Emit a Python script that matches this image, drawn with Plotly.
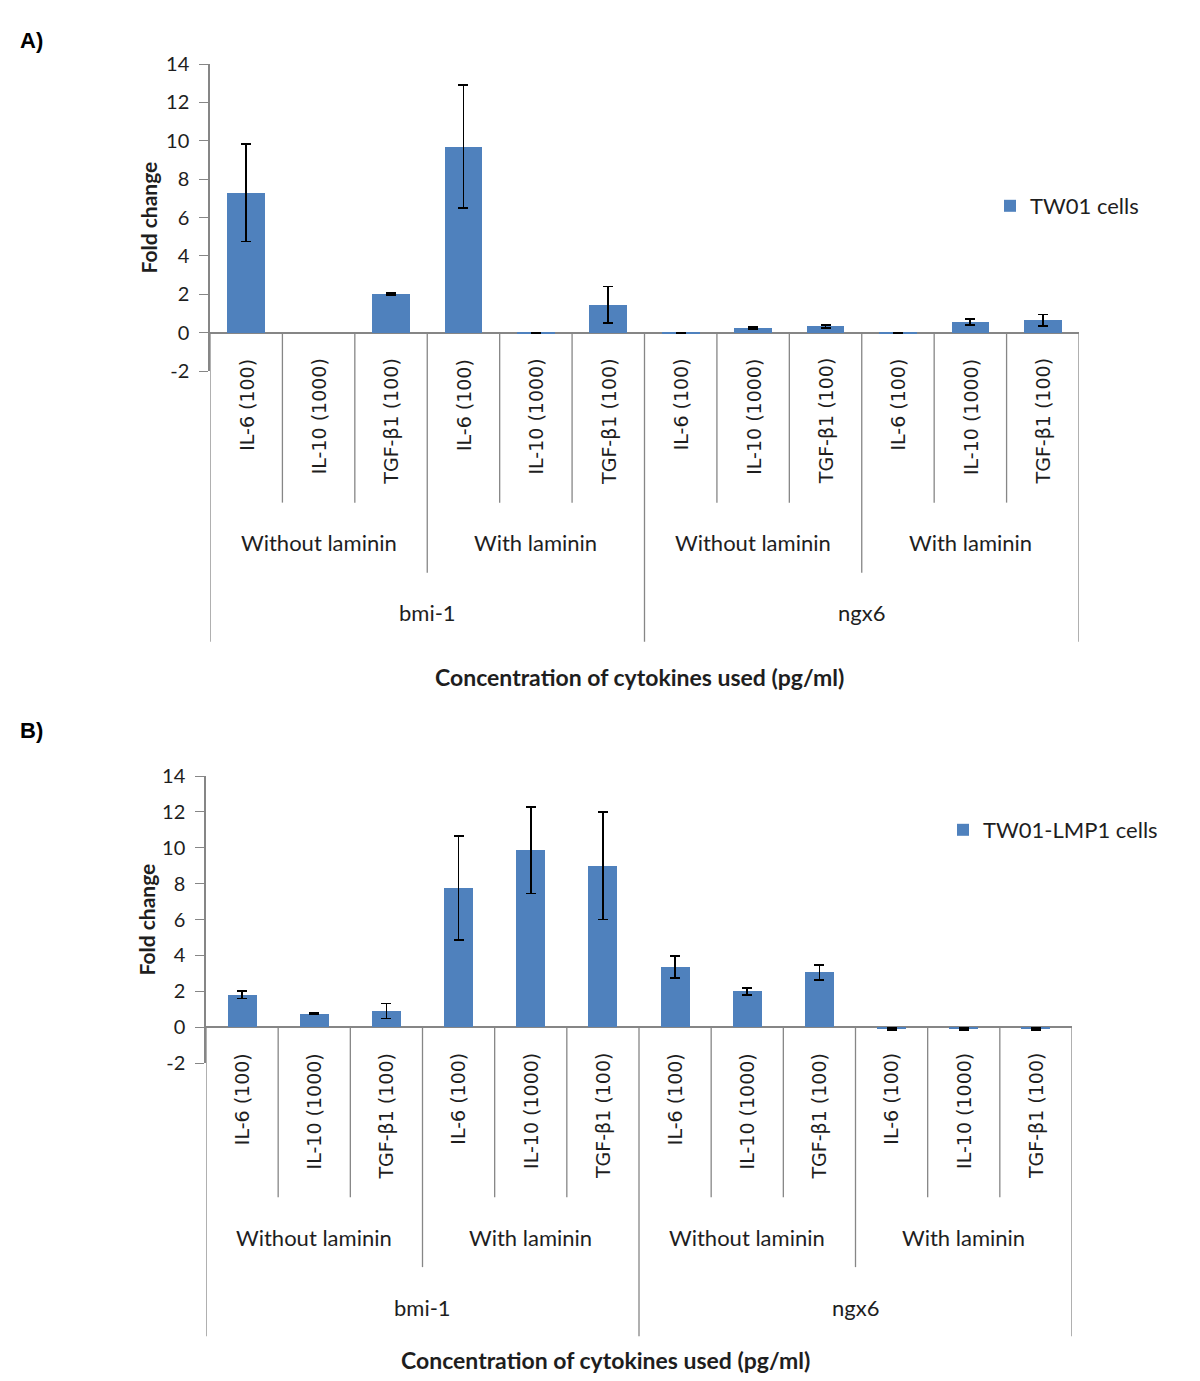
import plotly.graph_objects as go

W, H = 1200, 1381
PAGE_OFFSET = 8  # default body margin of the html page

# ---------------- data ----------------
categories = ["IL-6 (100)", "IL-10 (1000)", "TGF-β1 (100)"] * 4
conditions = ["Without laminin", "With laminin", "Without laminin", "With laminin"]
genes = ["bmi-1", "ngx6"]

tw01_values = [7.3, None, 2.0, 9.7, -0.03, 1.45, -0.03, 0.25, 0.33, -0.03, 0.55, 0.65]
tw01_errors = [2.55, 0, 0.05, 3.2, 0.02, 0.95, 0.02, 0.05, 0.07, 0.02, 0.17, 0.29]

lmp1_values = [1.8, 0.75, 0.9, 7.75, 9.85, 9.0, 3.35, 2.0, 3.05, -0.1, -0.1, -0.1]
lmp1_errors = [0.2, 0.05, 0.42, 2.9, 2.4, 3.0, 0.62, 0.2, 0.42, 0.04, 0.04, 0.04]

y_ticks = [-2, 0, 2, 4, 6, 8, 10, 12, 14]
y_tick_text = [str(v) for v in y_ticks]
x_title = "Concentration of cytokines used (pg/ml)"
y_title = "Fold change"

# ---------------- style ----------------
BAR = "#4F81BD"
AXIS = "#868686"
TXT = "#1e1e1e"
CAL = "Lato, 'Open Sans', sans-serif"
TAH = "'DejaVu Sans', Verdana, sans-serif"


def px(x):
    return (x - PAGE_OFFSET) / W


def py(y):
    return 1 - (y - PAGE_OFFSET) / H


panels = [
    dict(tag="A)", tag_xy=(18, 40), name="TW01 cells", values=tw01_values, errors=tw01_errors,
         x0=210, x1=1079, ytop=64, ybot=371, barw=0.52, ytitle_x=148, title_cx=639,
         legend_xy=(990, 206), legend_id="legend", xa="x", ya="y", title_off=344),
    dict(tag="B)", tag_xy=(18, 730), name="TW01-LMP1 cells", values=lmp1_values, errors=lmp1_errors,
         x0=206, x1=1072, ytop=776, ybot=1063, barw=0.40, ytitle_x=146, title_cx=605,
         legend_xy=(943, 830), legend_id="legend2", xa="x2", ya="y2", title_off=333),
]

ymin, ymax = y_ticks[0], y_ticks[-1]
n = len(categories)
x_idx = list(range(n))

fig = go.Figure()
shapes = []
annotations = []
layout_axes = {}

for k, p in enumerate(panels):
    sfx = "" if k == 0 else str(k + 1)
    fig.add_trace(go.Bar(
        x=x_idx, y=p["values"], name=p["name"],
        marker=dict(color=BAR, line=dict(width=0)),
        width=p["barw"],
        error_y=dict(type="data", array=p["errors"], visible=True,
                     color="#000000", thickness=1.8, width=5),
        xaxis=p["xa"], yaxis=p["ya"], legend=p["legend_id"], showlegend=True,
    ))

    layout_axes["xaxis" + sfx] = dict(
        domain=[px(p["x0"]), px(p["x1"])], range=[-0.5, n - 0.5],
        anchor=p["ya"], showticklabels=False, showgrid=False, zeroline=False,
        showline=False, ticks="", fixedrange=True, automargin=False,
    )
    layout_axes["yaxis" + sfx] = dict(
        domain=[py(p["ybot"]), py(p["ytop"])], range=[ymin, ymax],
        anchor=p["xa"], tickvals=y_ticks, ticktext=y_tick_text, ticks="outside", ticklen=9,
        tickcolor=AXIS, tickwidth=1.3, showline=True, linecolor=AXIS, linewidth=1.5,
        showgrid=False, zeroline=True, zerolinecolor=AXIS, zerolinewidth=1.5,
        ticklabelstandoff=6,
        tickfont=dict(family=CAL, size=20, color=TXT), fixedrange=True, automargin=False,
    )

    # pixel y of value 0
    zero_px = p["ybot"] - (0 - ymin) / (ymax - ymin) * (p["ybot"] - p["ytop"])
    zero_paper = py(zero_px)

    # multi-level category separators
    for b in range(n + 1):
        if b % 6 == 0:
            depth = 309
        elif b % 3 == 0:
            depth = 240
        else:
            depth = 170
        shapes.append(dict(type="line", xref=p["xa"], yref="paper",
                           x0=b - 0.5, x1=b - 0.5, y0=zero_paper, y1=py(zero_px + depth),
                           line=dict(color=AXIS, width=1.3)))

    # category labels
    for i, c in enumerate(categories):
        annotations.append(dict(text=c, x=i, xref=p["xa"], y=py(zero_px + 24), yref="paper",
                                textangle=-90, xanchor="center", yanchor="top", showarrow=False,
                                font=dict(family=TAH, size=19, color=TXT)))
    # condition labels
    for j, c in enumerate(conditions):
        annotations.append(dict(text=c, x=3 * j + 1, xref=p["xa"], y=py(zero_px + 210), yref="paper",
                                xanchor="center", yanchor="middle", showarrow=False,
                                font=dict(family=CAL, size=22, color=TXT)))
    # gene labels
    for j, g in enumerate(genes):
        annotations.append(dict(text=g, x=6 * j + 2.5, xref=p["xa"], y=py(zero_px + 280), yref="paper",
                                xanchor="center", yanchor="middle", showarrow=False,
                                font=dict(family=CAL, size=22, color=TXT)))
    # x title
    annotations.append(dict(text="<b>" + x_title + "</b>", x=px(p["title_cx"]), xref="paper",
                            y=py(zero_px + p["title_off"]), yref="paper",
                            xanchor="center", yanchor="middle", showarrow=False,
                            font=dict(family=CAL, size=23, color=TXT)))
    # y title
    annotations.append(dict(text="<b>" + y_title + "</b>", x=px(p["ytitle_x"]), xref="paper",
                            y=py((p["ytop"] + p["ybot"]) / 2), yref="paper", textangle=-90,
                            xanchor="center", yanchor="middle", showarrow=False,
                            font=dict(family=CAL, size=21, color=TXT)))
    # panel tag
    annotations.append(dict(text="<b>" + p["tag"] + "</b>", x=px(p["tag_xy"][0]), xref="paper",
                            y=py(p["tag_xy"][1]), yref="paper", xanchor="left", yanchor="middle",
                            showarrow=False,
                            font=dict(family="'Liberation Sans', Arial, sans-serif", size=22, color="#000")))

    layout_axes[p["legend_id"]] = dict(
        x=px(p["legend_xy"][0]), y=py(p["legend_xy"][1]), xanchor="left", yanchor="middle",
        bgcolor="rgba(0,0,0,0)", font=dict(family=CAL, size=22, color=TXT),
        itemclick=False, itemdoubleclick=False,
    )

fig.update_layout(
    width=W, height=H, margin=dict(l=0, r=0, t=0, b=0, autoexpand=False),
    paper_bgcolor="white", plot_bgcolor="white",
    shapes=shapes, annotations=annotations, bargap=0,
    **layout_axes,
)

fig.write_html("out.html")
